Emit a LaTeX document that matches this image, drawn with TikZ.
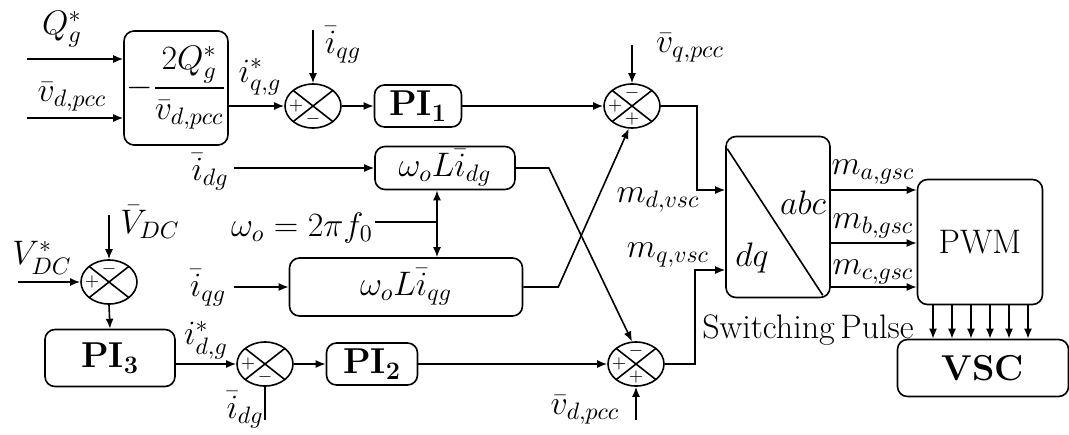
\documentclass[tikz,border=0pt]{standalone}
\usepackage{fix-cm}
\usepackage{amsmath}
\usetikzlibrary{arrows.meta,calc,shapes.geometric}

\tikzset{
  blk/.style={draw,rounded corners=5pt,thick,inner sep=1pt},
  sumjn/.style={draw,ellipse,thick,minimum width=28pt,minimum height=22pt,inner sep=0pt,
    path picture={\draw[thick] (path picture bounding box.north west) -- (path picture bounding box.south east)
      (path picture bounding box.north east) -- (path picture bounding box.south west);}},
  sgn/.style={font=\fontsize{9}{9}\selectfont,inner sep=0pt},
  lbl/.style={inner sep=1pt},
  sig/.style={->,thick},
  bld/.style={font=\fontsize{18}{21}\selectfont\bfseries},
}

\begin{document}
\begin{tikzpicture}[x=.5pt,y=-.5pt,font=\fontsize{17}{20}\selectfont,>={Latex[length=5pt,width=4pt]}]
\useasboundingbox (0,0) rectangle (1069,434);

% blocks
\node[blk,minimum width=49pt,minimum height=57pt] (qref) at (176,88) {$-\dfrac{2Q_g^*}{\bar{v}_{d,pcc}}$};
\node[blk,bld,minimum width=43.5pt,minimum height=21pt] (pi1) at (418,106) {PI$_{\mathbf{1}}$};
\node[blk,minimum width=70pt,minimum height=21.5pt] (wdg) at (445,168) {$\omega_o L\bar{i}_{dg}$};
\node[blk,minimum width=116.5pt,minimum height=29pt] (wqg) at (406,287) {$\omega_o L\bar{i}_{qg}$};
\node[blk,bld,minimum width=65pt,minimum height=28.5pt] (pi3) at (110,358) {PI$_{\mathbf{3}}$};
\node[blk,bld,minimum width=45.5pt,minimum height=21pt] (pi2) at (372,364) {PI$_{\mathbf{2}}$};
\node[blk,minimum width=52pt,minimum height=80.5pt] (dq) at (778,217) {};
\node[blk,minimum width=62.5pt,minimum height=62.5pt] (pwm) at (980,242) {PWM};
\node[blk,bld,minimum width=85.5pt,minimum height=28.5pt] (vsc) at (983,368) {VSC};

% summing junctions
\node[sumjn] (sA) at (313,106) {};
\node[sumjn] (sB) at (632,106) {};
\node[sumjn] (sC) at (636,364) {};
\node[sumjn] (sD) at (109,282) {};
\node[sumjn] (sE) at (265,364) {};
\node[sgn] at ($(sA)+(-17,0)$) {$+$};
\node[sgn] at ($(sA)+(0,13)$) {$-$};
\node[sgn] at ($(sB)+(-17,0)$) {$+$};
\node[sgn] at ($(sB)+(0,-13)$) {$-$};
\node[sgn] at ($(sB)+(0,13)$) {$+$};
\node[sgn] at ($(sC)+(-17,0)$) {$+$};
\node[sgn] at ($(sC)+(0,-13)$) {$-$};
\node[sgn] at ($(sC)+(0,13)$) {$+$};
\node[sgn] at ($(sD)+(-17,0)$) {$+$};
\node[sgn] at ($(sD)+(0,-13)$) {$-$};
\node[sgn] at ($(sE)+(-17,0)$) {$+$};
\node[sgn] at ($(sE)+(0,13)$) {$-$};

% labels
\node[lbl,anchor=south] (lQg) at (62,50) {$Q_g^*$};
\node[lbl] (lvd) at (72,97) {$\bar{v}_{d,pcc}$};
\node[lbl] (liq) at (260,77) {$i^*_{q,g}$};
\node[lbl] (liqt) at (343,45) {$\bar{i}_{qg}$};
\node[lbl] (lvq) at (690,48) {$\bar{v}_{q,pcc}$};
\node[lbl] (lidm) at (210,172) {$\bar{i}_{dg}$};
\node[lbl] (lw0) at (302,228) {$\omega_o=2\pi f_0$};
\node[lbl] (liqm) at (208,288) {$\bar{i}_{qg}$};
\node[lbl] (lmd) at (658,200) {$m_{d,vsc}$};
\node[lbl] (lmq) at (668,255) {$m_{q,vsc}$};
\node[lbl] (lVdc) at (150,222) {$\bar{V}_{DC}$};
\node[lbl] (lVref) at (42,258) {$V^*_{DC}$};
\node[lbl] (lid) at (206,340) {$i^*_{d,g}$};
\node[lbl] (lidb) at (245,410) {$\bar{i}_{dg}$};
\node[lbl] (lvdb) at (585,410) {$\bar{v}_{d,pcc}$};
\node[lbl] (lma) at (873,172) {$m_{a,gsc}$};
\node[lbl] (lmb) at (873,226) {$m_{b,gsc}$};
\node[lbl] (lmc) at (873,272) {$m_{c,gsc}$};
\node[lbl] (labc) at (803,203) {$abc$};
\node[lbl] (ldq) at (752,258) {$dq$};
\node[lbl] (lsw) at (808,330) {Switching\,Pulse};

% free ends
\coordinate (inQ) at (27,59);
\coordinate (inV) at (27,118);
\coordinate (inIq) at (313,30);
\coordinate (inVq) at (632,45);
\coordinate (inId) at (234,168);
\coordinate (inIqm) at (234,287);
\coordinate (wx) at (437,222);
\coordinate (inVd) at (636,420);
\coordinate (inVdc) at (109,215);
\coordinate (inVref) at (18,282);
\coordinate (inIdb) at (265,420);
\coordinate (md) at (0,190);
\coordinate (mq) at (0,270);

% connectors
\draw[sig] (inQ) -- (qref.west |- inQ);
\draw[sig] (inV) -- (qref.west |- inV);
\draw[sig] (qref.east |- sA) -- (sA.west);
\draw[sig] (inIq) -- (sA.north);
\draw[sig] (sA.east) -- (pi1.west);
\draw[sig] (pi1.east) -- (sB.west);
\draw[sig] (inVq) -- (sB.north);
\draw[sig] (sB.east) -- ++(36,0) |- (dq.west |- md);
\draw[sig] (inId) -- (wdg.west);
\draw[thick] (lw0.east |- wx) -- (wx);
\draw[thick,<->] (wdg.south -| wx) -- (wqg.north -| wx);
\draw[sig] (inIqm) -- (wqg.west);
\draw[sig] (wdg.east) -- ++(33,0) -- (sC.100);
\draw[sig] (wqg.east) -- ++(35,0) -- (sB.262);
\draw[sig] (inVd) -- (sC.south);
\draw[sig] (sC.east) -- ++(30,0) |- (dq.west |- mq);
\draw[sig] (inVdc) -- (sD.north);
\draw[sig] (inVref) -- (sD.west);
\draw[sig] (sD.south) -- (pi3.north);
\draw[sig] (pi3.east |- sE) -- (sE.west);
\draw[thick] (inIdb) -- (sE.south);
\draw[sig] (sE.east) -- (pi2.west);
\draw[sig] (pi2.east) -- (sC.west);
\draw[thick] ($(dq.north west)+(2,13)$) -- ($(dq.south east)+(-8,-3)$);
\draw[sig] (dq.east |- 0,190) -- (pwm.west |- 0,190);
\draw[sig] (dq.east |- 0,243) -- (pwm.west |- 0,243);
\draw[sig] (dq.east |- 0,287) -- (pwm.west |- 0,287);
\foreach \x in {933,952,971,990,1009,1028}
  \draw[sig] (pwm.south -| \x,0) -- (vsc.north -| \x,0);
\end{tikzpicture}
\end{document}
